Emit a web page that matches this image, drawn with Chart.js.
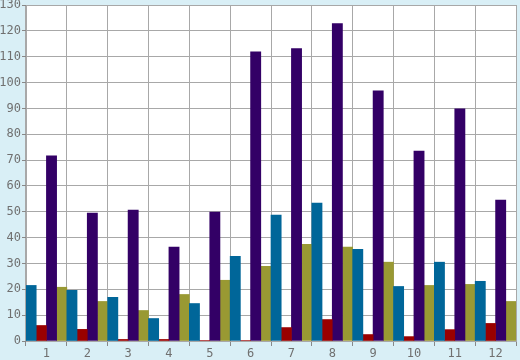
<!DOCTYPE html>
<html>
<head>
<meta charset="utf-8">
<script src="https://cdn.jsdelivr.net/npm/chart.js@4"></script>
<style>
html,body{margin:0;padding:0;background:#d9eff6;}
#wrap{width:520px;height:360px;}
</style>
</head>
<body>
<div id="wrap"><canvas id="c" width="520" height="360"></canvas></div>
<script>
const categories = ['1','2','3','4','5','6','7','8','9','10','11','12'];
const seriesBlue   = [21.5, 19.6, 16.9, 8.7, 14.5, 32.8, 48.7, 53.4, 35.5, 21.1, 30.5, 23.1];
const seriesRed    = [6.0, 4.5, 0.6, 0.6, 0.2, 0.2, 5.2, 8.3, 2.5, 1.7, 4.4, 6.8];
const seriesPurple = [71.6, 49.5, 50.7, 36.3, 49.9, 111.9, 113.1, 122.8, 96.8, 73.5, 89.8, 54.5];
const seriesOlive  = [20.8, 15.3, 11.8, 18.0, 23.5, 28.9, 37.4, 36.3, 30.5, 21.5, 21.9, 15.3];
const yMin = 0, yMax = 130, yStep = 10;

const bgPlugin = {
  id: 'bg',
  beforeDraw(chart) {
    const ctx = chart.ctx, a = chart.chartArea;
    ctx.save();
    ctx.fillStyle = '#d9eff6';
    ctx.fillRect(0, 0, chart.width, chart.height);
    ctx.fillStyle = '#ffffff';
    ctx.fillRect(a.left, a.top, a.right - a.left, a.bottom - a.top);
    ctx.restore();
  }
};

const font = {family: '"DejaVu Sans Mono", monospace', size: 12};
const ds = (data, color) => ({data, backgroundColor: color, borderWidth: 0,
  categoryPercentage: 1, barPercentage: 1});

new Chart(document.getElementById('c'), {
  type: 'bar',
  data: {
    labels: categories,
    datasets: [
      ds(seriesBlue, '#006699'),
      ds(seriesRed, '#990000'),
      ds(seriesPurple, '#330066'),
      ds(seriesOlive, '#999933')
    ]
  },
  plugins: [bgPlugin],
  options: {
    responsive: false,
    animation: false,
    layout: {padding: {top: 5, right: 4, left: 0, bottom: 0}},
    plugins: {legend: {display: false}, tooltip: {enabled: false}},
    scales: {
      x: {
        offset: true,
        grid: {offset: true, color: '#a8a8a8', lineWidth: 1, tickLength: 5, tickColor: '#888888'},
        border: {color: '#a8a8a8'},
        ticks: {font, color: '#707070', padding: 1, maxRotation: 0},
        afterFit(s) { s.height = 19; s.paddingLeft = 0; s.paddingRight = 0; }
      },
      y: {
        min: yMin, max: yMax,
        grid: {color: '#a8a8a8', lineWidth: 1, tickLength: 4, tickColor: '#888888'},
        border: {color: '#a8a8a8'},
        ticks: {stepSize: yStep, font, color: '#707070', padding: 1},
        afterFit(s) { s.width = 26; s.paddingTop = 0; s.paddingBottom = 0; }
      }
    }
  }
});
</script>
</body>
</html>
